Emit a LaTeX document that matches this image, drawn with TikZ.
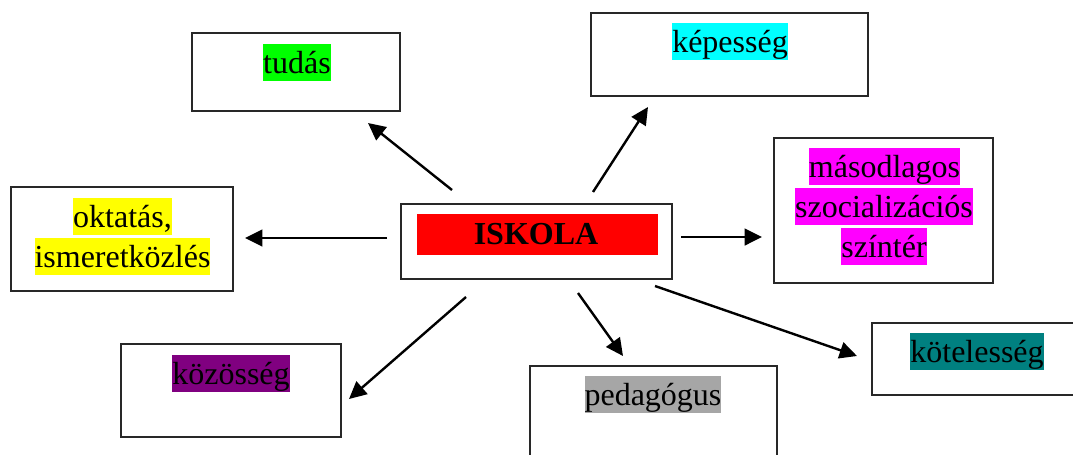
\documentclass[tikz,border=0pt]{standalone}
\usepackage{fontspec}
\setmainfont{Liberation Serif}
\usetikzlibrary{arrows.meta,fit}

\definecolor{hlgreen}{RGB}{0,255,0}
\definecolor{hlcyan}{RGB}{0,255,255}
\definecolor{hlyellow}{RGB}{255,255,0}
\definecolor{hlmagenta}{RGB}{255,0,255}
\definecolor{hlpurple}{RGB}{128,0,128}
\definecolor{hlgray}{RGB}{166,166,166}
\definecolor{hlteal}{RGB}{0,128,128}
\definecolor{hlred}{RGB}{255,0,0}
\definecolor{boxline}{RGB}{40,40,40}

\tikzset{
  frame/.style={draw=boxline, line width=1pt, inner sep=0pt},
  hl/.style={fill=#1, inner sep=0pt, text height=21.75pt, text depth=6pt,
             anchor=base, font=\fontsize{24pt}{30pt}\selectfont},
  arr/.style={line width=1.8pt, -{Triangle[length=13pt,width=12.5pt]}},
}

\begin{document}
\begin{tikzpicture}[x=0.75pt, y=-0.75pt]
  \clip (0,0) rectangle (1073,454);
  \fill[white] (0,0) rectangle (1073,454);

  % frames around the labels
  \node[frame, fit={(192,33) (400,111)}] (tudas) {};
  \node[frame, fit={(591,13) (868,96)}] (kepesseg) {};
  \node[frame, fit={(11,187) (233,291)}] (oktatas) {};
  \node[frame, fit={(401,204) (672,279)}] (iskola) {};
  \node[frame, fit={(774,138) (993,283)}] (szocial) {};
  \node[frame, fit={(872,323) (1085,395)}] (koteles) {};
  \node[frame, fit={(530,366) (777,470)}] (pedagog) {};
  \node[frame, fit={(121,344) (341,437)}] (kozosseg) {};

  % central title band
  \node[fill=hlred, inner sep=0pt, fit={(417,214) (658,255)}] (iskolaBand) {};
  \node[anchor=base, inner sep=0pt,
        font=\fontsize{24pt}{30pt}\selectfont\bfseries] (iskolaT) at (536,244) {ISKOLA};

  % highlighted labels
  \node[hl=hlgreen] (tudasT) at (297,73) {tudás};
  \node[hl=hlcyan] (kepessegT) at (730,52) {képesség};
  \node[hl=hlyellow] (oktatasT1) at (122.5,227) {oktatás,};
  \node[hl=hlyellow] (oktatasT2) at (122.5,267) {ismeretközlés};
  \node[hl=hlmagenta] (szocialT1) at (884.5,177) {másodlagos};
  \node[hl=hlmagenta] (szocialT2) at (884,217) {szocializációs};
  \node[hl=hlmagenta] (szocialT3) at (884,257) {színtér};
  \node[hl=hlteal] (kotelesT) at (977,362) {kötelesség};
  \node[hl=hlgray] (pedagogT) at (653,405) {pedagógus};
  \node[hl=hlpurple] (kozossegT) at (231,384) {közösség};

  % arrow end points
  \coordinate (s1) at (452,190); \coordinate (e1) at (368,123);
  \coordinate (s2) at (593,192); \coordinate (e2) at (648,107);
  \coordinate (s3) at (387,238); \coordinate (e3) at (245,238);
  \coordinate (s4) at (681,237); \coordinate (e4) at (762,237);
  \coordinate (s5) at (655,286); \coordinate (e5) at (857,356);
  \coordinate (s6) at (578,293); \coordinate (e6) at (623,356);
  \coordinate (s7) at (466,297); \coordinate (e7) at (349,399);

  \draw[arr] (s1) -- (e1);
  \draw[arr] (s2) -- (e2);
  \draw[arr] (s3) -- (e3);
  \draw[arr] (s4) -- (e4);
  \draw[arr] (s5) -- (e5);
  \draw[arr] (s6) -- (e6);
  \draw[arr] (s7) -- (e7);
\end{tikzpicture}
\end{document}
